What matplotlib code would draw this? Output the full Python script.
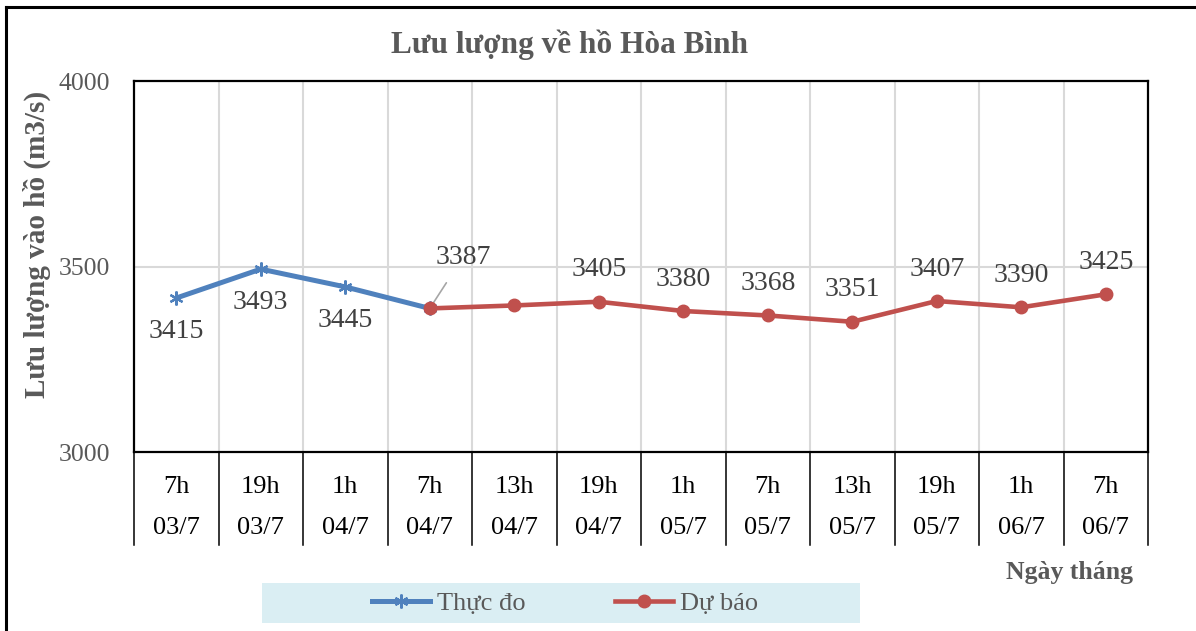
import matplotlib
matplotlib.use('Agg')
import matplotlib.pyplot as plt
from matplotlib.patches import Rectangle
from matplotlib.lines import Line2D
import matplotlib.transforms as mtransforms

# data
hours = ['7h', '19h', '1h', '7h', '13h', '19h', '1h', '7h', '13h', '19h', '1h', '7h']
dates = ['03/7', '03/7', '04/7', '04/7', '04/7', '04/7', '05/7', '05/7', '05/7', '05/7', '06/7', '06/7']
measured_idx = [0, 1, 2, 3]
measured = [3415, 3493, 3445, 3387]
forecast_idx = [3, 4, 5, 6, 7, 8, 9, 10, 11]
forecast = [3387, 3395, 3405, 3380, 3368, 3351, 3407, 3390, 3425]
forecast_labels = [True, False, True, True, True, True, True, True, True]

plt.rcParams['font.family'] = ['Liberation Serif', 'DejaVu Serif']
blue = '#4F81BD'
red = '#C0504D'
grey_txt = '#595959'
lbl_txt = '#404040'

W, H = 1196, 631
fig = plt.figure(figsize=(W / 100, H / 100), dpi=100)
ax = fig.add_axes([134 / W, 1 - 452 / H, (1148 - 134) / W, (452 - 81) / H])

ax.set_xlim(-0.5, len(hours) - 0.5)
ax.set_ylim(3000, 4000)
ax.set_yticks([3000, 3500, 4000])
ax.tick_params(axis='y', length=0, pad=17, labelsize=18.5, labelcolor=grey_txt)
ax.set_xticks([])
for i in range(1, len(hours)):
    ax.axvline(i - 0.5, color='#D9D9D9', lw=1.5, zorder=0)
ax.axhline(3500, color='#D9D9D9', lw=1.5, zorder=0)
for s in ax.spines.values():
    s.set_linewidth(1.6)
    s.set_color('black')

ax.plot(measured_idx, measured, color=blue, lw=3.6, marker=(6, 2, 0),
        markersize=10, markeredgewidth=1.6, markeredgecolor=blue, label='Thực đo', zorder=3)
ax.plot(forecast_idx, forecast, color=red, lw=3.3, marker='o', markersize=9,
        label='Dự báo', zorder=4)

for x, v in zip(measured_idx[:3], measured[:3]):
    ax.annotate(str(v), (x, v), xytext=(0, -24), textcoords='offset points',
                ha='center', va='center', fontsize=20, color=lbl_txt)
for x, v, show in zip(forecast_idx, forecast, forecast_labels):
    if not show:
        continue
    if x == 3:
        ax.annotate(str(v), (x, v), xytext=(24, 37), textcoords='offset points',
                    ha='center', va='center', fontsize=20, color=lbl_txt,
                    arrowprops=dict(arrowstyle='-', color='#A6A6A6', lw=1.2,
                                    shrinkA=9, shrinkB=1))
    else:
        ax.annotate(str(v), (x, v), xytext=(0, 23), textcoords='offset points',
                    ha='center', va='center', fontsize=20, color=lbl_txt)

# category table under the axis
trans = mtransforms.blended_transform_factory(ax.transData, ax.transAxes)
tbl_bottom = -(545 - 452) / (452 - 81)
for i in range(len(hours) + 1):
    ax.plot([i - 0.5, i - 0.5], [0, tbl_bottom], color='black', lw=1.1,
            transform=trans, clip_on=False)
for i, (h, d) in enumerate(zip(hours, dates)):
    ax.text(i, -(487 - 452) / 371, h, transform=trans, ha='center', va='center',
            fontsize=19, color='black')
    ax.text(i, -(528 - 452) / 371, d, transform=trans, ha='center', va='center',
            fontsize=19, color='black')

fig.text(570 / W, 1 - 45 / H, 'Lưu lượng về hồ Hòa Bình', ha='center', va='center',
         fontsize=22.5, fontweight='bold', color=grey_txt)
fig.text(37 / W, 1 - 244 / H, 'Lưu lượng vào hồ (m3/s)', rotation=90, ha='center',
         va='center', fontsize=21, fontweight='bold', color=grey_txt)
fig.text(1070 / W, 1 - 573 / H, 'Ngày tháng', ha='center', va='center',
         fontsize=18.5, fontweight='bold', color=grey_txt)

# legend with light-blue band
fig.add_artist(Rectangle((262 / W, 1 - 623 / H), (860 - 262) / W, 40 / H,
                         transform=fig.transFigure, facecolor='#DAEEF3',
                         edgecolor='none', zorder=0))
leg = fig.legend(loc='center', bbox_to_anchor=(565 / W, 1 - 603 / H), ncol=2,
                 frameon=False, fontsize=19, handlelength=2.2, handletextpad=0.25,
                 columnspacing=3.4, labelcolor=grey_txt)

# outer border (cropped on right and bottom)
fig.add_artist(Line2D([6 / W, 6 / W], [0, 1 - 7 / H], transform=fig.transFigure,
                      color='black', lw=2.2))
fig.add_artist(Line2D([6 / W, 1], [1 - 7 / H, 1 - 7 / H], transform=fig.transFigure,
                      color='black', lw=2.2))

fig.savefig('out.png', dpi=100)
